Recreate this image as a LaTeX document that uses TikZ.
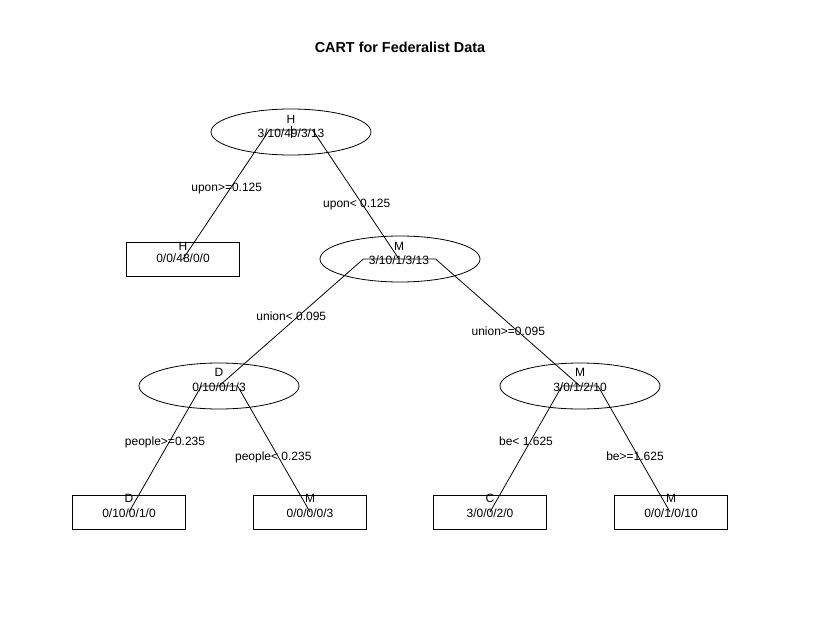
\documentclass[tikz,border=0pt]{standalone}
\usepackage{fontspec}
\setmainfont{Liberation Sans}
\usetikzlibrary{shapes.geometric}
\begin{document}
\begin{tikzpicture}[x=1pt,y=-1pt,
  innernode/.style={draw, ellipse, line width=0.8pt, minimum width=160pt, minimum height=46pt, inner sep=0pt},
  leafnode/.style={draw, rectangle, line width=0.8pt, minimum width=113pt, minimum height=34pt, inner sep=0pt},
  txt/.style={font=\fontsize{12}{14}\selectfont, inner sep=0pt, text height=8.6pt, text depth=0pt, anchor=center},
  branch/.style={line width=0.8pt}]
\useasboundingbox[fill=white] (0,0) rectangle (817,618);

% title
\node[font=\bfseries\fontsize{14.4}{16}\selectfont, inner sep=0pt, text height=10.3pt, text depth=0pt] (title) at (400,47) {CART for Federalist Data};

% node points
\coordinate (root) at (291,130);
\coordinate (hleaf) at (183,259);
\coordinate (m1) at (399,259);
\coordinate (d2) at (219,386);
\coordinate (m2) at (580,386);
\coordinate (l1) at (129,512);
\coordinate (l2) at (310,512);
\coordinate (l3) at (490,512);
\coordinate (l4) at (670,512);

% branch corners (branch = 0.2)
\coordinate (rootL) at (269.4,130);
\coordinate (rootR) at (312.6,130);
\coordinate (m1L) at (363.4,259);
\coordinate (m1R) at (435.6,259);
\coordinate (d2L) at (201.4,386);
\coordinate (d2R) at (237.6,386);
\coordinate (m2L) at (562,386);
\coordinate (m2R) at (598,386);
\coordinate (stubT) at (291,126);
\coordinate (stubB) at (291,138);

% branches
\draw[branch] (stubT) -- (stubB);
\draw[branch] (hleaf) -- (rootL) -- (rootR) -- (m1);
\draw[branch] (d2) -- (m1L) -- (m1R) -- (m2);
\draw[branch] (l1) -- (d2L) -- (d2R) -- (l2);
\draw[branch] (l3) -- (m2L) -- (m2R) -- (l4);

% shapes
\node[innernode] (rootE) at (291,132) {};
\node[leafnode] (hleafB) at (183,259.5) {};
\node[innernode] (m1E) at (400,259) {};
\node[innernode] (d2E) at (219,386) {};
\node[innernode] (m2E) at (580,386) {};
\node[leafnode] (l1B) at (129,512.5) {};
\node[leafnode] (l2B) at (310,512.5) {};
\node[leafnode] (l3B) at (490,512.5) {};
\node[leafnode] (l4B) at (670.5,512.5) {};

% node texts
\node[txt] (rootC) at (291,119) {H};
\node[txt] (rootN) at (291,133) {3/10/49/3/13};
\node[txt] (hleafC) at (183,246) {H};
\node[txt] (hleafN) at (183,258.5) {0/0/48/0/0};
\node[txt] (m1C) at (399,246) {M};
\node[txt] (m1N) at (399,260) {3/10/1/3/13};
\node[txt] (d2C) at (219,372) {D};
\node[txt] (d2N) at (219,387) {0/10/0/1/3};
\node[txt] (m2C) at (580,372) {M};
\node[txt] (m2N) at (580,387) {3/0/1/2/10};
\node[txt] (l1C) at (129,498) {D};
\node[txt] (l1N) at (129,513) {0/10/0/1/0};
\node[txt] (l2C) at (310,498) {M};
\node[txt] (l2N) at (310,513) {0/0/0/0/3};
\node[txt] (l3C) at (490,498) {C};
\node[txt] (l3N) at (490,513) {3/0/0/2/0};
\node[txt] (l4C) at (671,498) {M};
\node[txt] (l4N) at (671,513) {0/0/1/0/10};

% split labels
\node[txt] (s1) at (226.7,187.3) {upon>=0.125};
\node[txt] (s2) at (356.7,203.3) {upon< 0.125};
\node[txt] (s3) at (291.3,315.7) {union< 0.095};
\node[txt] (s4) at (508.3,331) {union>=0.095};
\node[txt] (s5) at (165,441) {people>=0.235};
\node[txt] (s6) at (273.3,456) {people< 0.235};
\node[txt] (s7) at (526,441) {be< 1.625};
\node[txt] (s8) at (635,456) {be>=1.625};
\end{tikzpicture}
\end{document}
